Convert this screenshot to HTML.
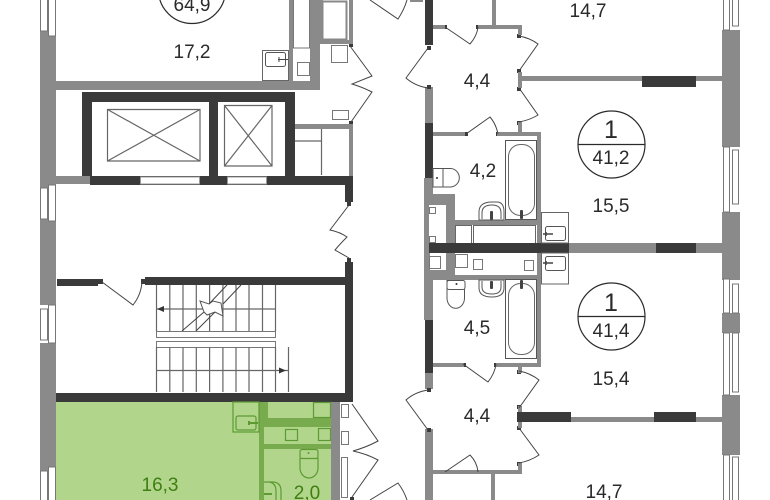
<!DOCTYPE html>
<html><head><meta charset="utf-8"><style>
html,body{margin:0;padding:0;background:#fff}
svg{display:block}
text{font-family:"Liberation Sans",sans-serif;font-size:19px;fill:#2a2a2a;text-anchor:middle}
.g{fill:#8a8a8a}.d{fill:#3a3a3a}.w{fill:#fff;stroke:#777;stroke-width:1}
.l{fill:none;stroke:#444;stroke-width:1}.f{fill:none;stroke:#666;stroke-width:1.2}
.dg{fill:#78ab4e}.gf{fill:none;stroke:#5d9a33;stroke-width:1.2}
</style></head><body>
<svg width="770" height="500" viewBox="0 0 770 500" xmlns="http://www.w3.org/2000/svg">
<rect width="770" height="500" fill="#fff"/>
<!-- left exterior -->
<rect class="g" x="40" y="31" width="16" height="157"/>
<rect class="g" x="40" y="219" width="16" height="86"/>
<rect class="g" x="40" y="343" width="16" height="128"/>
<g class="w">
<rect x="40.500" y="-2" width="7" height="33"/><rect x="48.500" y="-2" width="7" height="38"/>
<rect x="40.500" y="188" width="7" height="31"/><rect x="48.500" y="185" width="7" height="36"/>
<rect x="40.500" y="309" width="7" height="31"/><rect x="48.500" y="305" width="7" height="38"/>
<rect x="40.500" y="471" width="7" height="32"/><rect x="48.500" y="467" width="7" height="36"/>
</g>
<!-- top left flat -->
<rect class="g" x="56" y="81" width="264" height="9"/>
<rect class="g" x="289" y="0" width="4" height="81"/>
<rect class="g" x="310" y="0" width="10" height="90"/>
<rect class="w" x="293.500" y="-2" width="16" height="50"/>
<rect class="w" x="297.500" y="62.500" width="12" height="13"/>
<rect fill="#fff" stroke="#666" x="262.500" y="50.500" width="26" height="30"/>
<rect fill="#fff" stroke="#555" x="265.500" y="52.500" width="20" height="14" rx="2"/>
<path class="l" d="M278 59.500H288M279 57v5" stroke-width="1.500"/>
<circle cx="192" cy="-10" r="33.500" fill="#fff" stroke="#2a2a2a" stroke-width="1.200"/>
<text x="192" y="11">64,9</text>
<text x="192" y="58">17,2</text>
<!-- top bath cell -->
<rect class="g" x="320" y="0" width="33" height="44"/>
<rect fill="#fff" x="323" y="0" width="26" height="40"/>
<rect class="w" x="322.500" y="1.500" width="24" height="38" style="stroke:#888;stroke-width:2"/>
<rect class="w" x="331.500" y="45.500" width="16" height="17"/>
<rect class="w" x="332.500" y="110.500" width="16" height="9"/>
<rect class="d" x="349" y="44" width="4" height="3"/><rect class="d" x="349" y="121" width="4" height="3"/>
<path class="l" d="M350 46L372 76Q362 80 352 84Q362 87 372 92L351 122"/>
<path class="l" d="M370 0L398 19Q404 10 407 0"/>
<rect class="g" x="410" y="0" width="13" height="2"/>
<!-- lift core -->
<rect class="g" x="56" y="176" width="36" height="8"/>
<rect class="d" x="82" y="92" width="212" height="10"/>
<rect class="d" x="82" y="92" width="10" height="84"/>
<rect class="d" x="209" y="100" width="9" height="80"/>
<rect class="d" x="285" y="92" width="10" height="93"/>
<rect class="d" x="90" y="176" width="263" height="9"/>
<rect class="d" x="345" y="176" width="8" height="26"/>
<rect class="d" x="347" y="202" width="4" height="4"/>
<rect fill="#fff" stroke="#999" x="140.500" y="177" width="59" height="7"/>
<rect fill="#fff" stroke="#999" x="227.500" y="177" width="39" height="7"/>
<path class="f" d="M107.500 109.500H200V161H107.500ZM107.500 109.500L200 161M200 109.500L107.500 161"/>
<path class="f" d="M224.500 105.500H272V166H224.500ZM224.500 105.500L272 166M272 105.500L224.500 166"/>
<!-- service room -->
<rect class="g" x="295" y="124" width="58" height="5"/>
<rect class="g" x="349" y="124" width="4" height="52"/>
<path class="f" d="M295 141H321M321.500 129V175"/>
<path class="l" d="M349 205L330 230Q340 232 347 237Q340 244 335 250L349 258"/>
<!-- stair hall -->
<rect class="d" x="345" y="262" width="8" height="139"/>
<rect class="d" x="347" y="258" width="4" height="5"/>
<rect class="d" x="56" y="393" width="297" height="9"/>
<rect class="d" x="145" y="277" width="200" height="8"/>
<rect class="d" x="141" y="279" width="4" height="5"/>
<rect class="d" x="57" y="279" width="41" height="7"/>
<rect class="d" x="98" y="279" width="5" height="5"/>
<path class="l" d="M102 282L133 305Q141 295 142 282"/>
<!-- stairs -->
<path class="f" d="M156.500 285V331M169.800 285V331M183 285V331M196.300 285V331M209.600 285V331M222.900 285V331M236 285V331M249 285V331M262.500 285V331M275.500 285V331M157 309H276"/>
<rect class="w" x="156.500" y="331.500" width="119" height="6"/>
<rect class="w" x="156.500" y="341.500" width="119" height="6"/>
<path class="f" d="M156.500 347V392M169.800 347V392M183 347V392M196.300 347V392M209.600 347V392M222.900 347V392M236 347V392M249 347V392M262.500 347V392M275.500 347V392M157 370.500H288M288.500 347V392"/>
<path d="M157 309l7-3v6zM286 370.500l-7-3v6z" fill="#333"/>
<path fill="#fff" stroke="#555" d="M200 301L209 304L213 301L221 303L223 316L215 312L207 315L204 312Z"/>
<path class="l" d="M227 285L209 304M241 285L223 304M182 331L204 312M196 331L215 312"/>
<!-- green unit -->
<rect x="56" y="402" width="275" height="98" fill="#b1d68b"/>
<rect class="dg" x="259" y="402" width="5" height="98"/>
<rect class="dg" x="259" y="402" width="9" height="18"/>
<rect class="dg" x="259" y="418" width="72" height="9"/>
<rect class="dg" x="263" y="444" width="68" height="5"/>
<rect class="gf" x="233" y="402" width="26" height="30"/>
<rect class="gf" x="236" y="416" width="20" height="14" rx="2"/>
<path class="gf" d="M248 423H258M249 421v4" style="stroke-width:2"/>
<rect class="gf" x="313.500" y="402.500" width="17" height="15"/>
<rect class="gf" x="285.500" y="429.500" width="12" height="11"/>
<rect class="gf" x="318.500" y="428.500" width="12" height="12"/>
<rect class="gf" x="300" y="449.500" width="18" height="9" rx="2"/>
<path class="gf" d="M300 458V468A9 10 0 0 0 318 468V458"/>
<circle cx="308.500" cy="453" r="1" fill="#5d9a33"/>
<path class="gf" d="M264 482H272Q281 482 281 491V500M269 482Q276 483 276 491V500"/>
<path class="gf" d="M264 494H272" style="stroke-width:2"/>
<text x="160" y="491" style="fill:#3f7f12">16,3</text>
<text x="307" y="499" style="fill:#3f7f12">2,0</text>
<!-- grey riser + door -->
<rect class="g" x="331" y="402" width="9" height="98"/>
<rect class="w" x="341.500" y="404.500" width="7" height="13"/>
<rect class="w" x="341.500" y="431.500" width="7" height="13"/>
<rect class="w" x="341.500" y="457.500" width="6" height="40"/>
<path class="l" d="M352 404L378 441Q367 447 353 451Q367 454 378 460L352 497"/>
<path class="l" d="M370 500L398 483Q404 491 407 500"/>
<rect class="d" x="350" y="497" width="4" height="3"/>
<!-- right: corridor wall -->
<rect class="d" x="425" y="0" width="8" height="45"/>
<rect class="g" x="425" y="87" width="8" height="37"/>
<rect class="d" x="425" y="123" width="8" height="55"/>
<rect class="g" x="424" y="178" width="9" height="75"/>
<rect class="g" x="424" y="253" width="9" height="67"/>
<rect class="d" x="425" y="320" width="8" height="53"/>
<rect class="g" x="425" y="373" width="8" height="16"/>
<rect class="g" x="425" y="429" width="8" height="71"/>
<g class="d">
<rect x="427" y="46" width="4" height="4"/><rect x="427" y="85" width="4" height="4"/>
<rect x="427" y="388" width="4" height="4"/><rect x="427" y="428" width="4" height="4"/>
<rect x="443" y="25" width="4" height="4"/><rect x="476" y="25" width="4" height="4"/>
<rect x="517" y="34" width="4" height="4"/><rect x="517" y="69" width="4" height="4"/>
<rect x="517" y="87" width="4" height="4"/><rect x="517" y="121" width="4" height="4"/>
<rect x="464" y="132" width="4" height="4"/><rect x="496" y="132" width="4" height="4"/>
<rect x="517" y="370" width="4" height="4"/><rect x="517" y="405" width="4" height="4"/>
<rect x="517" y="426" width="4" height="4"/><rect x="517" y="462" width="4" height="4"/>
<rect x="462" y="363" width="4" height="4"/><rect x="494" y="363" width="4" height="4"/>
<rect x="444" y="470" width="4" height="4"/><rect x="476" y="470" width="4" height="4"/>
</g>
<!-- upper right rooms -->
<rect class="g" x="492" y="0" width="4" height="25"/>
<rect class="g" x="433" y="25" width="12" height="4"/>
<rect class="g" x="478" y="25" width="44" height="4"/>
<rect class="g" x="518" y="25" width="4" height="10"/>
<rect class="g" x="518" y="72" width="4" height="16"/>
<rect class="g" x="518" y="122" width="4" height="12"/>
<rect class="g" x="522" y="76" width="200" height="5"/>
<rect class="d" x="642" y="76" width="54" height="11"/>
<rect class="g" x="433" y="132" width="32" height="4"/>
<rect class="g" x="497" y="132" width="44" height="4"/>
<rect class="g" x="537" y="132" width="4" height="111"/>
<path class="l" d="M445 27L470 44Q477 36 478 27M519 36Q530 38 538 44L519 71M519 88L538 115Q530 120 519 122M466 134L490 117Q496 124 498 134M428 48L406 78Q415 86 428 88"/>
<!-- lower right rooms -->
<rect class="g" x="433" y="275" width="108" height="5"/>
<rect class="g" x="537" y="275" width="4" height="92"/>
<rect class="g" x="433" y="363" width="31" height="4"/>
<rect class="g" x="496" y="363" width="45" height="4"/>
<rect class="g" x="518" y="367" width="4" height="6"/>
<rect class="g" x="518" y="406" width="4" height="22"/>
<rect class="g" x="518" y="463" width="4" height="11"/>
<rect class="d" x="517" y="412" width="54" height="10"/>
<rect class="g" x="571" y="417" width="84" height="5"/>
<rect class="d" x="654" y="412" width="42" height="10"/>
<rect class="g" x="696" y="417" width="26" height="5"/>
<rect class="g" x="433" y="470" width="89" height="4"/>
<rect class="g" x="491" y="474" width="4" height="26"/>
<path class="l" d="M463 364L488 382Q495 373 496 364M519 371Q530 373 539 380L519 408M519 428L539 455Q530 461 519 463M428 390Q415 392 406 400L428 430M445 472L470 455Q477 462 478 472"/>
<!-- shaft block -->
<rect class="g" x="424" y="194" width="31" height="86"/>
<rect class="g" x="455" y="220" width="86" height="60"/>
<rect fill="#fff" x="429" y="205" width="17" height="38"/>
<rect class="w" x="429.500" y="207.500" width="6" height="6"/>
<rect class="w" x="429.500" y="236.500" width="6" height="6"/>
<rect fill="#fff" x="430" y="253" width="16" height="17"/>
<rect class="w" x="429.500" y="256.500" width="11" height="12"/>
<rect fill="#fff" x="455" y="225" width="82" height="18"/>
<rect fill="#fff" stroke="#666" x="455.500" y="225.500" width="16" height="18"/>
<rect fill="#fff" stroke="#666" x="473.500" y="225.500" width="62" height="18"/>
<rect fill="#fff" x="455" y="253" width="82" height="22"/>
<rect class="w" x="455.500" y="254.500" width="12" height="13"/>
<rect class="w" x="473.500" y="259.500" width="9" height="10"/>
<rect class="w" x="524.500" y="260.500" width="9" height="10"/>
<rect class="g" x="569" y="243" width="153" height="10"/>
<rect class="d" x="656" y="243" width="40" height="10"/>
<rect class="d" x="429" y="243" width="140" height="10"/>
<!-- sink cells -->
<rect fill="#fff" stroke="#666" x="541.500" y="212.500" width="27" height="30.500"/>
<rect fill="#fff" stroke="#555" x="545.500" y="226.500" width="20" height="14" rx="2"/>
<path d="M543 234H553M546 232v4" stroke="#444" stroke-width="1.500"/>
<rect fill="#fff" stroke="#666" x="541.500" y="253" width="27" height="31"/>
<rect fill="#fff" stroke="#555" x="545.500" y="256.500" width="20" height="14" rx="2"/>
<path d="M543 263H553M546 261v4" stroke="#444" stroke-width="1.500"/>
<!-- baths -->
<rect class="w" x="505.500" y="140.500" width="31" height="79" style="stroke:#555"/>
<rect fill="#fff" stroke="#666" x="508.500" y="144.500" width="26" height="71" rx="12"/>
<rect class="w" x="505.500" y="279.500" width="31" height="79" style="stroke:#555"/>
<rect fill="#fff" stroke="#666" x="508.500" y="283.500" width="26" height="71" rx="12"/>
<rect x="520" y="210" width="3" height="9" fill="#444" rx="1"/>
<rect x="520" y="280" width="3" height="9" fill="#444" rx="1"/>
<!-- basins -->
<path fill="#fff" stroke="#555" d="M479 220V212Q479 202 492 202H497Q504 202 504 212V220ZM482 219V213Q482 205 492 205Q501 205 501 213V219"/>
<rect x="490" y="211" width="3" height="9" fill="#444" rx="1"/>
<path fill="#fff" stroke="#555" d="M479 280V288Q479 297 492 297Q504 297 504 288V280ZM482 281V287Q482 294 492 294Q501 294 501 287V281"/>
<rect x="490" y="281" width="3" height="8" fill="#444" rx="1"/>
<!-- toilets -->
<path fill="#fff" stroke="#555" d="M433 168.500H443V187H433ZM443 168.500H451A9.300 9.300 0 0 1 451 187H443"/>
<circle cx="437" cy="178" r="1" fill="#333"/>
<path fill="#fff" stroke="#555" d="M448 280.500H462V289H448ZM448 289V298A8.500 10 0 0 0 465.500 298V289" transform="translate(-1 0)"/>
<rect fill="#fff" stroke="#555" x="447" y="280.500" width="18" height="9" rx="2"/>
<circle cx="456.500" cy="284" r="1" fill="#333"/>
<!-- right exterior -->
<rect class="g" x="722" y="30" width="18" height="117"/>
<rect class="g" x="722" y="212" width="18" height="68"/>
<rect class="g" x="722" y="313" width="18" height="20"/>
<rect class="g" x="722" y="395" width="18" height="60"/>
<g class="w">
<rect x="723.500" y="-2" width="6" height="32"/><rect x="732.500" y="-2" width="6" height="28"/>
<rect x="723.500" y="147" width="6" height="65"/><rect x="732.500" y="150" width="6" height="54"/>
<rect x="723.500" y="279" width="6" height="34"/><rect x="732.500" y="284" width="6" height="29"/>
<rect x="723.500" y="333" width="6" height="62"/><rect x="732.500" y="333" width="6" height="59"/>
<rect x="723.500" y="455" width="6" height="47"/><rect x="732.500" y="457" width="6" height="45"/>
</g>
<!-- circles -->
<circle cx="611.500" cy="144.500" r="33.500" fill="#fff" stroke="#2a2a2a" stroke-width="1.200"/>
<path d="M578 144.500H645" stroke="#2a2a2a" stroke-width="1.200"/>
<text x="611" y="138" style="font-size:25px">1</text>
<text x="611" y="164">41,2</text>
<circle cx="611.500" cy="316.500" r="33.500" fill="#fff" stroke="#2a2a2a" stroke-width="1.200"/>
<path d="M578 316.500H645" stroke="#2a2a2a" stroke-width="1.200"/>
<text x="611" y="311" style="font-size:25px">1</text>
<text x="611" y="337">41,4</text>
<!-- labels -->
<text x="588" y="17">14,7</text>
<text x="477" y="87">4,4</text>
<text x="483" y="177">4,2</text>
<text x="611" y="212">15,5</text>
<text x="477" y="334">4,5</text>
<text x="611" y="385">15,4</text>
<text x="477" y="422">4,4</text>
<text x="604" y="498">14,7</text>
</svg>
</body></html>
